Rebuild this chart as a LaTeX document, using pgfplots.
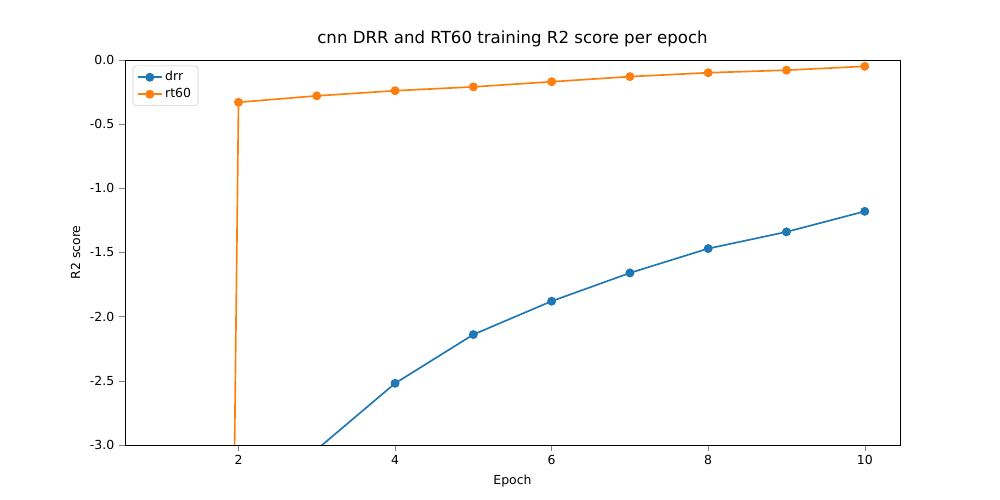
\documentclass[border=0pt]{standalone}
\usepackage{pgfplots}
\pgfplotsset{compat=1.18}
\usepackage{fontspec}
\setmainfont{DejaVu Sans}
\definecolor{c0}{HTML}{1F77B4}
\definecolor{c1}{HTML}{FF7F0E}
\begin{document}
\begin{tikzpicture}
\fill[white] (0,0) rectangle (10in,5in);
\begin{axis}[at={(1.25in,0.55in)},anchor=south west,
 width=7.75in,height=3.85in,scale only axis,
 xmin=0.55,xmax=10.45,ymin=-3,ymax=0,
 xtick={2,4,6,8,10},ytick={-3,-2.5,-2,-1.5,-1,-0.5,0},
 xtick pos=left,ytick pos=left,
 yticklabel style={/pgf/number format/.cd,fixed,fixed zerofill,precision=1},
 /pgf/number format/assume math mode=true,
 tick label style={font=\small},
 label style={font=\small},
 tick align=outside,
 xlabel={Epoch},ylabel={R2 score},
 title={cnn DRR and RT60 training R2 score per epoch},
 title style={font=\large},
 legend style={at={(0.01,0.985)},anchor=north west,font=\small,draw=black!20,rounded corners=2pt},
 legend cell align=left,
 every axis plot/.append style={line width=1.2pt,mark=*,mark size=2.6pt}]
\addplot[c0,mark options={fill=c0}] coordinates {(1,-12)(2,-6)(3,-3.036)(4,-2.52)(5,-2.14)(6,-1.88)(7,-1.66)(8,-1.47)(9,-1.34)(10,-1.18)};
\addlegendentry{drr}
\addplot[c1,mark options={fill=c1}] coordinates {(1,-54)(2,-0.33)(3,-0.28)(4,-0.24)(5,-0.21)(6,-0.17)(7,-0.13)(8,-0.10)(9,-0.08)(10,-0.05)};
\addlegendentry{rt60}
\end{axis}
\end{tikzpicture}
\end{document}
